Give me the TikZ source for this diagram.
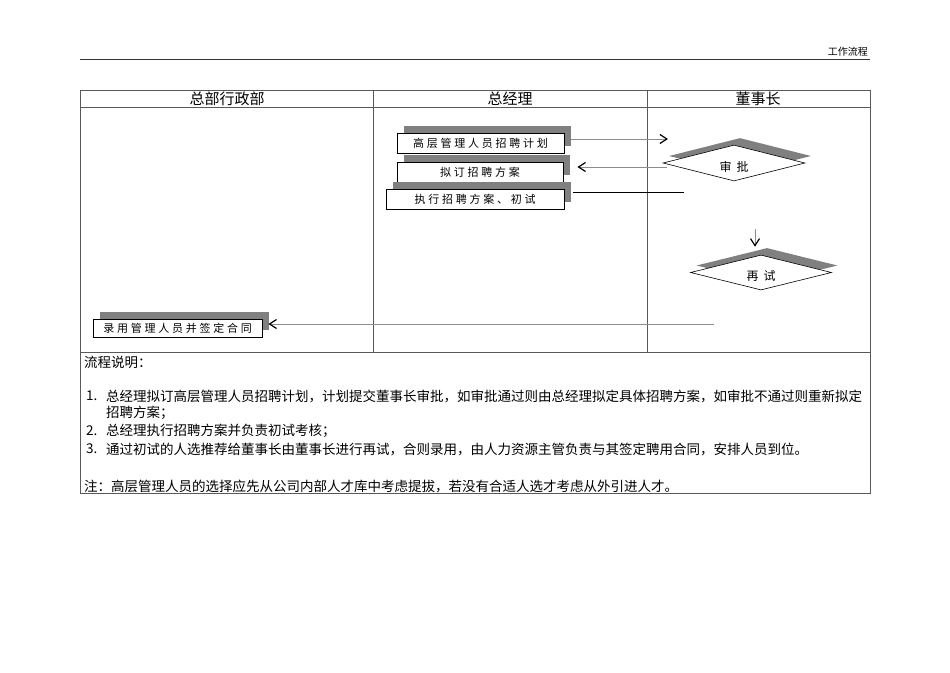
\documentclass[tikz,border=0pt]{standalone}
\usepackage{fontspec}
\setmainfont{Noto Sans CJK SC}
\newfontfamily\boxfont[LetterSpace=25]{Noto Sans CJK SC}
\usetikzlibrary{arrows.meta,shapes.geometric,shadows}

\begin{document}
\begin{tikzpicture}[x=1pt,y=-1pt,
  tableline/.style={draw=black!65,line width=0.8pt},
  headtext/.style={inner sep=0pt,font=\fontsize{15}{15}\selectfont},
  stepbox/.style={rectangle,draw=black,line width=0.8pt,fill=white,inner sep=0pt,
    minimum height=20pt,font=\boxfont\fontsize{11}{11}\selectfont,
    general shadow={shadow xshift=7pt,shadow yshift=7pt,fill=black!50,draw=none}},
  checkbox/.style={diamond,draw=black,line width=0.6pt,fill=white,inner sep=0pt,
    minimum width=142pt,minimum height=36pt,font=\fontsize{12}{12}\selectfont,
    general shadow={shadow xshift=6pt,shadow yshift=7pt,fill=black!50,draw=none}},
  flowline/.style={draw=black!45,line width=0.6pt},
  flowarrow/.style={flowline,-{Straight Barb[length=7pt,width=9pt,line width=1.2pt,color=black]}},
  desc/.style={anchor=west,inner sep=0pt,font=\fontsize{13.5}{13.5}\selectfont}]
  \useasboundingbox (0,0) rectangle (950,672);
  \fill[white] (0,0) rectangle (950,672);

  % page header
  \draw[black!80,line width=0.8pt] (80,59) -- (870,59);
  \node[anchor=south east,inner sep=0pt,font=\fontsize{10}{10}\selectfont] (pagehead) at (868,56) {工作流程};

  % table
  \draw[tableline] (80,90) rectangle (870,493);
  \draw[tableline] (80,107) -- (870,107);
  \draw[tableline] (80,352) -- (870,352);
  \draw[tableline] (373,90) -- (373,352);
  \draw[tableline] (647,90) -- (647,352);
  \node[headtext] (hq) at (227,98.5) {总部行政部};
  \node[headtext] (gm) at (510,98.5) {总经理};
  \node[headtext] (chair) at (758,98.5) {董事长};

  % flow
  \node[stepbox,minimum width=167pt] (plan) at (480.5,143) {高层管理人员招聘计划};
  \node[stepbox,minimum width=166pt] (draft) at (480,172) {拟订招聘方案};
  \node[stepbox,minimum width=178pt] (interview) at (475,199) {执行招聘方案、初试};
  \node[checkbox] (approve) at (734,163) {\raisebox{-8pt}[0pt][0pt]{审\hspace{5pt}批}};
  \node[checkbox,minimum width=141pt,minimum height=35pt] (retest) at (761,272.5) {\raisebox{-8pt}[0pt][0pt]{再\hspace{5pt}试}};
  \node[stepbox,minimum width=169pt,minimum height=18pt] (hire) at (177.5,328) {录用管理人员并签定合同};

  \coordinate (approvein) at (668,139);
  \coordinate (interviewout) at (684,192);
  \coordinate (retestin) at (755,229);
  \coordinate (hirein) at (714,324);

  \draw[flowarrow] ([xshift=6.5pt,yshift=4pt]plan.east) -- (approvein);
  \draw[flowarrow] ([xshift=4pt,yshift=-4pt]approve.west) -- ([xshift=14pt,yshift=5pt]draft.east);
  \draw[black,line width=0.8pt] ([xshift=9pt,yshift=7pt]interview.east) -- (interviewout);
  \draw[flowarrow] (retestin) -- ([xshift=-6pt,yshift=8pt]retest.north);
  \draw[flowarrow] (hirein) -- ([xshift=6pt,yshift=4pt]hire.east);

  % notes
  \node[desc] (notehead) at (84,362) {流程说明：};
  \node[desc] (num1) at (86,396) {1.};
  \node[desc] (item1) at (106,396) {总经理拟订高层管理人员招聘计划，计划提交董事长审批，如审批通过则由总经理拟定具体招聘方案，如审批不通过则重新拟定};
  \node[desc] (item1b) at (106,413) {招聘方案；};
  \node[desc] (num2) at (86,431) {2.};
  \node[desc] (item2) at (106,431) {总经理执行招聘方案并负责初试考核；};
  \node[desc] (num3) at (86,449) {3.};
  \node[desc] (item3) at (106,449) {通过初试的人选推荐给董事长由董事长进行再试，合则录用，由人力资源主管负责与其签定聘用合同，安排人员到位。};
  \node[desc] (remark) at (84,486) {注：高层管理人员的选择应先从公司内部人才库中考虑提拔，若没有合适人选才考虑从外引进人才。};
\end{tikzpicture}
\end{document}
